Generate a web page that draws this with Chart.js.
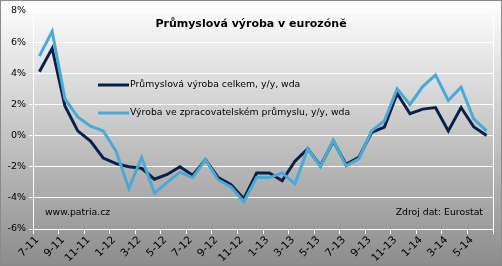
<!DOCTYPE html>
<html>
<head>
<meta charset="utf-8">
<script src="https://cdn.jsdelivr.net/npm/chart.js@4.4.1/dist/chart.umd.min.js"></script>
<style>
  html, body { margin: 0; padding: 0; background: #fff; }
  #wrap { width: 502px; height: 266px; position: relative; }
</style>
</head>
<body>
<div id="wrap"><canvas id="c" width="502" height="266"></canvas></div>
<script>
const months = ['7-11','8-11','9-11','10-11','11-11','12-11','1-12','2-12','3-12','4-12','5-12','6-12',
  '7-12','8-12','9-12','10-12','11-12','12-12','1-13','2-13','3-13','4-13','5-13','6-13',
  '7-13','8-13','9-13','10-13','11-13','12-13','1-14','2-14','3-14','4-14','5-14','6-14'];
const totalSeries = [4.1, 5.6, 1.9, 0.3, -0.35, -1.45, -1.8, -2.0, -2.1, -2.8, -2.5, -2.0,
  -2.55, -1.55, -2.7, -3.15, -4.05, -2.4, -2.4, -2.9, -1.65, -0.85, -1.95, -0.35,
  -1.85, -1.4, 0.2, 0.55, 2.7, 1.4, 1.7, 1.8, 0.3, 1.8, 0.55, 0.0];
const manufSeries = [5.1, 6.7, 2.35, 1.2, 0.6, 0.3, -1.0, -3.4, -1.4, -3.7, -3.0, -2.35,
  -2.7, -1.55, -2.85, -3.3, -4.25, -2.7, -2.7, -2.4, -3.1, -0.85, -2.0, -0.3,
  -1.95, -1.5, 0.3, 0.95, 3.0, 2.0, 3.15, 3.9, 2.25, 3.1, 1.05, 0.3];
const seriesNames = ['Průmyslová výroba celkem, y/y, wda', 'Výroba ve zpracovatelském průmyslu, y/y, wda'];
const titleText = 'Průmyslová výroba v eurozóně';
const sourceLeft = 'www.patria.cz';
const sourceRight = 'Zdroj dat: Eurostat';
const yMin = -6, yMax = 8, yStep = 2;

const FONT = '"DejaVu Sans", Verdana, sans-serif';

const bgPlugin = {
  id: 'bg',
  beforeDraw(chart) {
    const { ctx, width, height } = chart;
    ctx.save();
    const g = ctx.createLinearGradient(0, 0, 0, height);
    g.addColorStop(0, '#ffffff');
    g.addColorStop(1, '#8c8c8c');
    ctx.fillStyle = g;
    ctx.fillRect(0, 0, width, height);
    ctx.restore();
  },
  afterDraw(chart) {
    const { ctx, chartArea: a, width, height } = chart;
    ctx.save();
    ctx.strokeStyle = '#ffffff';
    ctx.lineWidth = 1;
    ctx.beginPath();
    ctx.moveTo(Math.round(a.right) + 0.5, a.top);
    ctx.lineTo(Math.round(a.right) + 0.5, a.bottom);
    ctx.stroke();
    ctx.fillStyle = '#000';
    ctx.textBaseline = 'middle';
    ctx.textAlign = 'center';
    ctx.font = 'bold 11px ' + FONT;
    ctx.fillText(titleText, 251, 24);
    ctx.textAlign = 'left';
    ctx.font = '9.3px ' + FONT;
    const ds = chart.data.datasets;
    const legendY = [85, 113];
    [0, 1].forEach(k => {
      const d = ds.find(x => x.label === seriesNames[k]);
      ctx.strokeStyle = d.borderColor;
      ctx.lineWidth = 3;
      ctx.beginPath();
      ctx.moveTo(98, legendY[k]);
      ctx.lineTo(129, legendY[k]);
      ctx.stroke();
      ctx.fillStyle = '#000';
      ctx.fillText(seriesNames[k], 130, legendY[k]);
    });
    ctx.font = '9.3px ' + FONT;
    ctx.fillText(sourceLeft, 45, 213);
    ctx.textAlign = 'right';
    ctx.fillText(sourceRight, 483, 213);
    ctx.strokeStyle = '#8a8a8a';
    ctx.lineWidth = 1;
    ctx.strokeRect(0.5, 0.5, width - 1, height - 1);
    ctx.restore();
  }
};

new Chart(document.getElementById('c'), {
  type: 'line',
  data: {
    labels: months,
    datasets: [
      { label: seriesNames[0], data: totalSeries, borderColor: '#0b2048', borderWidth: 3,
        pointRadius: 0, tension: 0, fill: false, order: 1 },
      { label: seriesNames[1], data: manufSeries, borderColor: '#4aaad6', borderWidth: 3,
        pointRadius: 0, tension: 0, fill: false, order: 0 }
    ]
  },
  options: {
    responsive: false,
    animation: false,
    devicePixelRatio: 1,
    layout: { padding: { left: 0, right: 9, top: 11, bottom: 0 } },
    plugins: { legend: { display: false }, title: { display: false }, tooltip: { enabled: false } },
    scales: {
      x: {
        type: 'category',
        offset: true,
        afterFit(s) { s.height = 37; },
        grid: {
          offset: true,
          drawOnChartArea: false,
          drawTicks: true,
          tickLength: 5,
          color: (c) => (c.index === undefined || c.index % 2 === 0) ? '#ffffff' : 'rgba(0,0,0,0)'
        },
        border: { display: true, color: '#ffffff', width: 1 },
        ticks: {
          autoSkip: false,
          minRotation: 45, maxRotation: 45,
          padding: 0,
          labelOffset: -2,
          color: '#000',
          font: { family: FONT, size: 10.5 },
          callback: (v, i) => (i % 2 === 0 ? months[i] : '')
        }
      },
      y: {
        min: yMin, max: yMax,
        afterFit(s) { s.width = 33; },
        grid: { color: '#ffffff', lineWidth: 1, drawTicks: true, tickLength: 4 },
        border: { display: true, color: '#ffffff', width: 1 },
        ticks: {
          stepSize: yStep,
          padding: 3,
          color: '#000',
          font: { family: FONT, size: 9.5 },
          callback: (v) => v + '%'
        }
      }
    }
  },
  plugins: [bgPlugin]
});
</script>
</body>
</html>
